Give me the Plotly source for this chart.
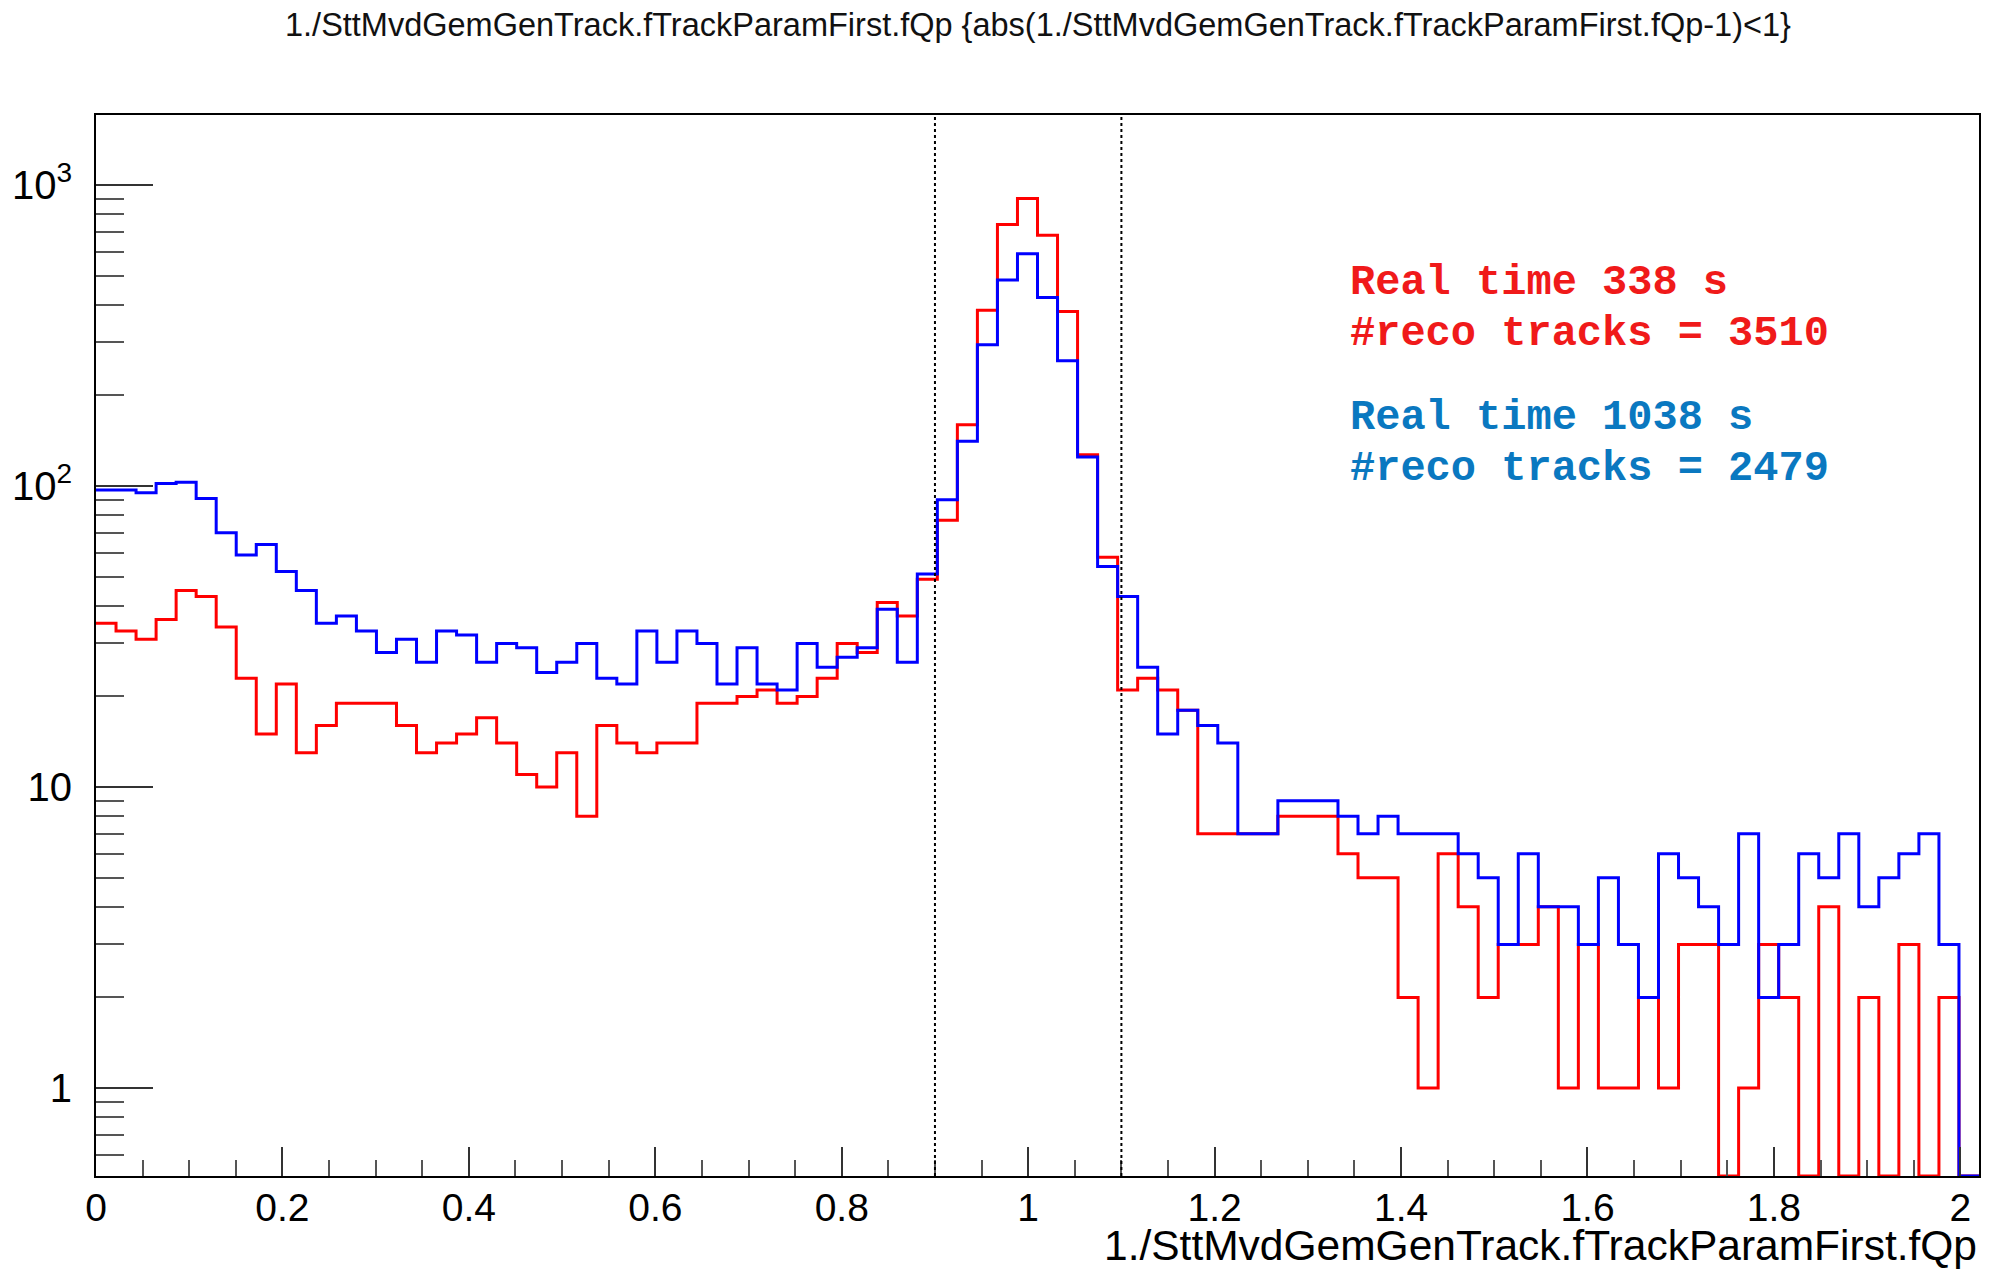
import numpy as np
import plotly.graph_objects as go

# ---- data (94 bins over [0, 2.02]) ----
x_min = 0.0
x_max = 2.02
red_counts = [35, 33, 31, 36, 45, 43, 34, 23, 15, 22,
              13, 16, 19, 19, 19, 16, 13, 14, 15, 17,
              14, 11, 10, 13, 8, 16, 14, 13, 14, 14,
              19, 19, 20, 21, 19, 20, 23, 30, 28, 41,
              37, 49, 77, 160, 384, 740, 903, 682, 380, 127,
              58, 21, 23, 21, 18, 7, 7, 7, 7, 8,
              8, 8, 6, 5, 5, 2, 1, 6, 4, 2,
              3, 3, 4, 1, 3, 1, 1, 2, 1, 3,
              3, 0, 1, 3, 2, 0, 4, 0, 2, 0,
              3, 0, 2, 0]
blue_counts = [97, 97, 95, 102, 103, 91, 70, 59, 64, 52,
               45, 35, 37, 33, 28, 31, 26, 33, 32, 26,
               30, 29, 24, 26, 30, 23, 22, 33, 26, 33,
               30, 22, 29, 22, 21, 30, 25, 27, 29, 39,
               26, 51, 90, 141, 295, 484, 592, 423, 261, 125,
               54, 43, 25, 15, 18, 16, 14, 7, 7, 9,
               9, 9, 8, 7, 8, 7, 7, 7, 6, 5,
               3, 6, 4, 4, 3, 5, 3, 2, 6, 5,
               4, 3, 7, 2, 3, 6, 5, 7, 4, 5,
               6, 7, 3, 0]

y_range = [0.51, 1710]
y_major = [1, 10, 100, 1000]
y_major_text = ["1", "10", "10<sup>2</sup>", "10<sup>3</sup>"]
y_minor = [0.6, 0.7, 0.8, 0.9, 2, 3, 4, 5, 6, 7, 8, 9,
           20, 30, 40, 50, 60, 70, 80, 90, 200, 300, 400, 500, 600, 700, 800, 900]
box_x = [0.9, 1.1]

title_text = "1./SttMvdGemGenTrack.fTrackParamFirst.fQp {abs(1./SttMvdGemGenTrack.fTrackParamFirst.fQp-1)<1}"
xaxis_title = "1./SttMvdGemGenTrack.fTrackParamFirst.fQp"
red_lines = ["Real time 338 s", "#reco tracks = 3510"]
blue_lines = ["Real time 1038 s", "#reco tracks = 2479"]

# ---- build step outlines ----
nb = len(red_counts)
edges = np.linspace(x_min, x_max, nb + 1)


def outline(counts):
    vals = [max(c, y_range[0]) for c in counts]
    return list(edges), vals + [vals[-1]]


W, H = 2000, 1272
L, R, T, B = 96, 21, 115, 96

fig = go.Figure()
for counts, col in [(red_counts, "#FF0000"), (blue_counts, "#0000FF")]:
    xs, ys = outline(counts)
    fig.add_trace(go.Scatter(x=xs, y=ys, mode="lines",
                             line=dict(shape="hv", color=col, width=3),
                             showlegend=False, hoverinfo="skip"))

for bx in box_x:
    fig.add_shape(type="line", xref="x", yref="paper", x0=bx, x1=bx, y0=0, y1=1,
                  line=dict(color="black", width=2, dash="dot"))

fig.update_layout(
    width=W, height=H, autosize=False,
    margin=dict(l=L, r=R, t=T, b=B, pad=0),
    paper_bgcolor="white", plot_bgcolor="white",
    font=dict(family="Liberation Sans, Arial, sans-serif", color="black"),
    xaxis=dict(range=[x_min, x_max], showgrid=False, zeroline=False,
               showline=True, mirror=True, linecolor="black", linewidth=2,
               tickmode="linear", tick0=0, dtick=0.2,
               ticks="inside", ticklen=29, tickwidth=2, tickcolor="#333",
               tickfont=dict(size=39, color="black"), ticklabelstandoff=-4,
               minor=dict(tickmode="linear", tick0=0, dtick=0.05, ticks="inside",
                          ticklen=16, tickwidth=2, tickcolor="#555", showgrid=False)),
    yaxis=dict(type="log", range=[np.log10(y_range[0]), np.log10(y_range[1])],
               showgrid=False, zeroline=False,
               showline=True, mirror=True, linecolor="black", linewidth=2,
               tickmode="array", tickvals=y_major, ticktext=y_major_text,
               ticks="inside", ticklen=57, tickwidth=2, tickcolor="#333",
               tickfont=dict(size=40, color="black"), ticklabelstandoff=14,
               minor=dict(tickmode="array", tickvals=y_minor, ticks="inside",
                          ticklen=28, tickwidth=2, tickcolor="#555", showgrid=False)),
)

ph = H - T - B


def py(pix):
    return (H - B - pix) / ph


ann = []
ann.append(dict(text=title_text, xref="paper", yref="paper", x=0.5, y=py(25),
                xanchor="center", yanchor="middle", showarrow=False,
                font=dict(size=32.5, color="#111", family="Liberation Sans, Arial, sans-serif")))
ann.append(dict(text=xaxis_title, xref="paper", yref="paper", x=1.0, y=py(1246),
                xanchor="right", yanchor="middle", showarrow=False,
                font=dict(size=42.5, color="black", family="Liberation Sans, Arial, sans-serif")))
tx = (1348 - L) / (W - L - R)
for txt, ypix in zip(red_lines, [283, 334]):
    ann.append(dict(text=txt, xref="paper", yref="paper", x=tx, y=py(ypix),
                    xanchor="left", yanchor="middle", showarrow=False,
                    font=dict(size=42, color="#F01A1A", family="Liberation Mono, Courier New, monospace",
                              weight="bold")))
for txt, ypix in zip(blue_lines, [418, 469]):
    ann.append(dict(text=txt, xref="paper", yref="paper", x=tx, y=py(ypix),
                    xanchor="left", yanchor="middle", showarrow=False,
                    font=dict(size=42, color="#0A78C0", family="Liberation Mono, Courier New, monospace",
                              weight="bold")))
fig.update_layout(annotations=ann)

fig.write_html("out.html")
